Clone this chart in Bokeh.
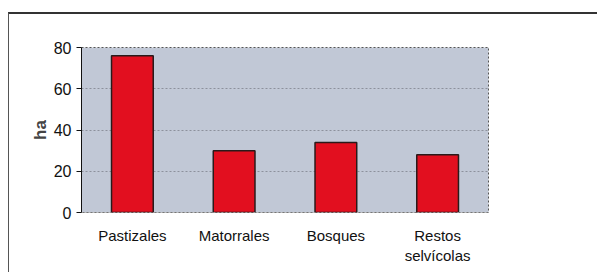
from bokeh.plotting import figure
from bokeh.models import FixedTicker
from bokeh.embed import file_html
from bokeh.resources import INLINE

categories = ["Pastizales", "Matorrales", "Bosques", "Restos\nselvícolas"]
values = [76, 30, 34, 28]
y_ticks = [0, 20, 40, 60, 80]

p = figure(x_range=categories, y_range=(0, 80),
           frame_width=407, frame_height=165,
           min_border_left=72, min_border_right=109,
           min_border_top=33, min_border_bottom=60,
           output_backend="svg", toolbar_location=None)
p.margin = (12, 0, 0, 8)
p.styles = {"border-top": "2px solid #333", "border-left": "1px solid #555"}

p.vbar(x=categories, top=values, width=0.41, fill_color="#e20f1f",
       line_color="#2a1a1a", line_width=1.5)

p.background_fill_color = "#c1c8d6"
p.border_fill_color = "white"
p.outline_line_color = "#555555"
p.outline_line_dash = "2 2"
p.x_range.range_padding = 0

p.xgrid.grid_line_color = None
p.ygrid.grid_line_color = "#8c919c"
p.ygrid.grid_line_dash = "2 2"
p.ygrid.ticker = FixedTicker(ticks=y_ticks)

p.yaxis.ticker = FixedTicker(ticks=y_ticks)
p.yaxis.axis_label = "ha"
p.yaxis.axis_label_text_font = "Liberation Sans"
p.yaxis.axis_label_text_font_style = "bold"
p.yaxis.axis_label_text_font_size = "17px"
p.yaxis.axis_label_standoff = 1
p.yaxis.major_label_text_font = "Liberation Sans"
p.yaxis.major_label_text_font_size = "16px"
p.yaxis.major_label_text_color = "#111111"
p.yaxis.axis_line_color = "#111111"
p.yaxis.major_tick_line_color = "#111111"
p.yaxis.major_tick_out = 5
p.yaxis.major_tick_in = 0
p.yaxis.minor_tick_line_color = None

p.xaxis.major_label_text_font = "Liberation Sans"
p.xaxis.major_label_text_font_size = "15px"
p.xaxis.major_label_text_color = "#111111"
p.xaxis.axis_line_color = "#999999"
p.xaxis.axis_line_dash = "2 2"
p.xaxis.major_tick_line_color = None
p.xaxis.major_label_standoff = 8

open("out.html", "w").write(file_html(p, INLINE))
